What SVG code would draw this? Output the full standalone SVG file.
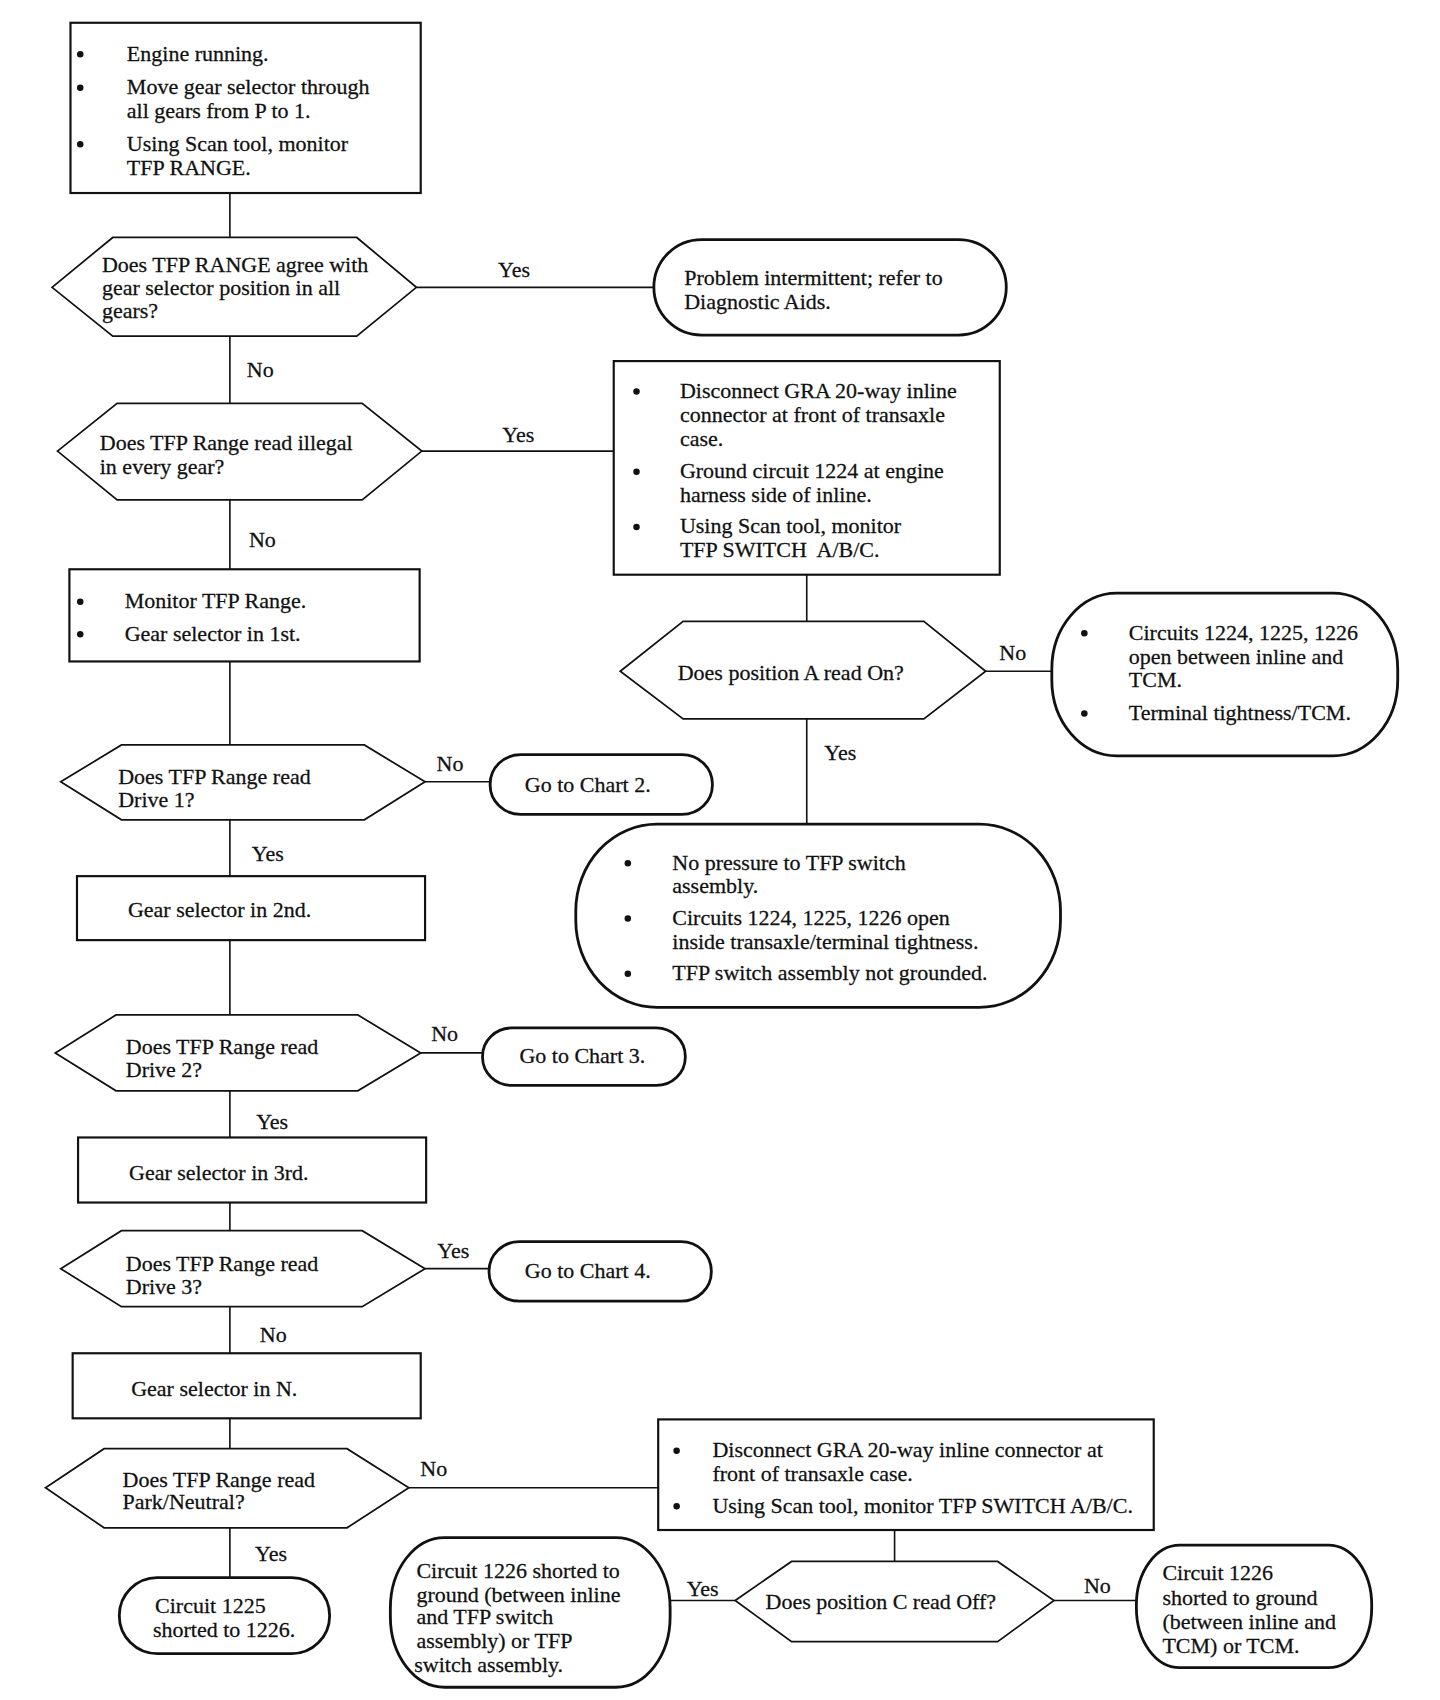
<svg xmlns="http://www.w3.org/2000/svg" width="1440" height="1700" viewBox="0 0 1440 1700">
<style>
text{font-family:"Liberation Serif","Times New Roman",serif;font-size:20.3px;fill:#111;stroke:#111;stroke-width:0.25}
.lbl{text-anchor:middle}
.box{fill:#fff;stroke:#111;stroke-width:2}
.dia{fill:#fff;stroke:#111;stroke-width:1.6}
.term{fill:#fff;stroke:#111;stroke-width:2.6}
.con line{stroke:#111;stroke-width:1.5}
.bul{fill:#111}
</style>
<rect width="1440" height="1700" fill="#fff"/>
<g transform="scale(1.08434)">
<g id="connectors" class="con">
<line x1="212" y1="178" x2="212" y2="219"/>
<line x1="212" y1="310" x2="212" y2="372"/>
<line x1="212" y1="461" x2="212" y2="525"/>
<line x1="212" y1="610" x2="212" y2="687"/>
<line x1="212" y1="756" x2="212" y2="808"/>
<line x1="212" y1="867" x2="212" y2="936"/>
<line x1="212" y1="1006" x2="212" y2="1049"/>
<line x1="212" y1="1109" x2="212" y2="1135"/>
<line x1="212" y1="1205" x2="212" y2="1248"/>
<line x1="212" y1="1308" x2="212" y2="1336"/>
<line x1="212" y1="1409" x2="212" y2="1455"/>
<line x1="384" y1="265" x2="603" y2="265"/>
<line x1="389" y1="416" x2="566" y2="416"/>
<line x1="744" y1="530" x2="744" y2="573"/>
<line x1="909" y1="619" x2="970" y2="619"/>
<line x1="744" y1="663" x2="744" y2="760"/>
<line x1="392" y1="721" x2="452" y2="721"/>
<line x1="388" y1="971" x2="445" y2="971"/>
<line x1="392" y1="1170" x2="451" y2="1170"/>
<line x1="377" y1="1372" x2="607" y2="1372"/>
<line x1="825" y1="1411" x2="825" y2="1440"/>
<line x1="618" y1="1476" x2="678" y2="1476"/>
<line x1="972" y1="1476" x2="1048" y2="1476"/>
<g class="lbl">
<text x="474" y="255">Yes</text>
<text x="240" y="348">No</text>
<text x="478" y="408">Yes</text>
<text x="242" y="504">No</text>
<text x="934" y="609">No</text>
<text x="775" y="701">Yes</text>
<text x="415" y="711">No</text>
<text x="247" y="794">Yes</text>
<text x="410" y="960">No</text>
<text x="251" y="1041">Yes</text>
<text x="418" y="1160">Yes</text>
<text x="252" y="1238">No</text>
<text x="400" y="1361">No</text>
<text x="250" y="1440">Yes</text>
<text x="648" y="1472">Yes</text>
<text x="1012" y="1469">No</text>
</g>
</g>

<g id="n1">
<rect class="box" x="65" y="21" width="323" height="157"/>
<circle class="bul" cx="74" cy="50" r="3"/><circle class="bul" cx="74" cy="81" r="3"/><circle class="bul" cx="74" cy="133" r="3"/>
<text x="117" y="56">Engine running.</text>
<text x="117" y="87">Move gear selector through</text>
<text x="117" y="109">all gears from P to 1.</text>
<text x="117" y="139">Using Scan tool, monitor</text>
<text x="117" y="161">TFP RANGE.</text>
</g>

<g id="d1">
<polygon class="dia" points="48,265 104,219 329,219 384,265 329,310 104,310"/>
<text x="94" y="251">Does TFP RANGE agree with</text>
<text x="94" y="272">gear selector position in all</text>
<text x="94" y="293">gears?</text>
</g>

<g id="t1">
<rect class="term" x="603" y="221" width="325" height="88" rx="44" ry="44"/>
<text x="631" y="263">Problem intermittent; refer to</text>
<text x="631" y="285">Diagnostic Aids.</text>
</g>

<g id="d2">
<polygon class="dia" points="53,416 108,372 334,372 389,416 334,461 108,461"/>
<text x="92" y="415">Does TFP Range read illegal</text>
<text x="92" y="437">in every gear?</text>
</g>

<g id="b2">
<rect class="box" x="566" y="333" width="356" height="197"/>
<circle class="bul" cx="587" cy="361" r="3"/><circle class="bul" cx="587" cy="435" r="3"/><circle class="bul" cx="587" cy="486" r="3"/>
<text x="627" y="367">Disconnect GRA 20-way inline</text>
<text x="627" y="389">connector at front of transaxle</text>
<text x="627" y="411">case.</text>
<text x="627" y="441">Ground circuit 1224 at engine</text>
<text x="627" y="463">harness side of inline.</text>
<text x="627" y="492">Using Scan tool, monitor</text>
<text x="627" y="514">TFP SWITCH&#160; A/B/C.</text>
</g>

<g id="b3">
<rect class="box" x="64" y="525" width="323" height="85"/>
<circle class="bul" cx="74" cy="555" r="3"/><circle class="bul" cx="74" cy="585" r="3"/>
<text x="115" y="561">Monitor TFP Range.</text>
<text x="115" y="591">Gear selector in 1st.</text>
</g>

<g id="dA">
<polygon class="dia" points="572,619 630,573 852,573 909,619 852,663 630,663"/>
<text x="625" y="627">Does position A read On?</text>
</g>

<g id="tA">
<rect class="term" x="970" y="547" width="319" height="150" rx="60" ry="70"/>
<circle class="bul" cx="1000" cy="584" r="3"/><circle class="bul" cx="1000" cy="658" r="3"/>
<text x="1041" y="590">Circuits 1224, 1225, 1226</text>
<text x="1041" y="612">open between inline and</text>
<text x="1041" y="634">TCM.</text>
<text x="1041" y="664">Terminal tightness/TCM.</text>
</g>

<g id="tB">
<rect class="term" x="531" y="760" width="447" height="169" rx="75" ry="80"/>
<circle class="bul" cx="579" cy="796" r="3"/><circle class="bul" cx="579" cy="847" r="3"/><circle class="bul" cx="579" cy="898" r="3"/>
<text x="620" y="802">No pressure to TFP switch</text>
<text x="620" y="824">assembly.</text>
<text x="620" y="853">Circuits 1224, 1225, 1226 open</text>
<text x="620" y="875">inside transaxle/terminal tightness.</text>
<text x="620" y="904">TFP switch assembly not grounded.</text>
</g>

<g id="dD1">
<polygon class="dia" points="56,721 112,687 336,687 392,721 336,756 112,756"/>
<text x="109" y="723">Does TFP Range read</text>
<text x="109" y="744">Drive 1?</text>
</g>

<g id="tC2">
<rect class="term" x="452" y="696" width="205" height="55" rx="28" ry="27"/>
<text x="484" y="730">Go to Chart 2.</text>
</g>

<g id="b4">
<rect class="box" x="71" y="808" width="321" height="59"/>
<text x="118" y="846">Gear selector in 2nd.</text>
</g>

<g id="dD2">
<polygon class="dia" points="51,971 107,936 330,936 388,971 330,1006 107,1006"/>
<text x="116" y="972">Does TFP Range read</text>
<text x="116" y="993">Drive 2?</text>
</g>

<g id="tC3">
<rect class="term" x="445" y="948" width="187" height="53" rx="27" ry="26"/>
<text x="479" y="980">Go to Chart 3.</text>
</g>

<g id="b5">
<rect class="box" x="72" y="1049" width="321" height="60"/>
<text x="119" y="1088">Gear selector in 3rd.</text>
</g>

<g id="dD3">
<polygon class="dia" points="56,1170 112,1135 334,1135 392,1170 334,1205 112,1205"/>
<text x="116" y="1172">Does TFP Range read</text>
<text x="116" y="1193">Drive 3?</text>
</g>

<g id="tC4">
<rect class="term" x="451" y="1145" width="205" height="55" rx="28" ry="27"/>
<text x="484" y="1179">Go to Chart 4.</text>
</g>

<g id="b6">
<rect class="box" x="67" y="1248" width="321" height="60"/>
<text x="121" y="1287">Gear selector in N.</text>
</g>

<g id="dPN">
<polygon class="dia" points="42,1372 96,1336 320,1336 377,1372 320,1409 96,1409"/>
<text x="113" y="1371">Does TFP Range read</text>
<text x="113" y="1392">Park/Neutral?</text>
</g>

<g id="b7">
<rect class="box" x="607" y="1309" width="457" height="102"/>
<circle class="bul" cx="624" cy="1338" r="3"/><circle class="bul" cx="624" cy="1389" r="3"/>
<text x="657" y="1344">Disconnect GRA 20-way inline connector at</text>
<text x="657" y="1366">front of transaxle case.</text>
<text x="657" y="1395">Using Scan tool, monitor TFP SWITCH A/B/C.</text>
</g>

<g id="t1225">
<rect class="term" x="110" y="1455" width="194" height="70" rx="35" ry="35"/>
<text x="143" y="1488">Circuit 1225</text>
<text x="141" y="1510">shorted to 1226.</text>
</g>

<g id="dC">
<polygon class="dia" points="678,1476 730,1440 920,1440 972,1476 920,1514 730,1514"/>
<text x="706" y="1484">Does position C read Off?</text>
</g>

<g id="tY">
<rect class="term" x="360" y="1418" width="258" height="138" rx="50" ry="65"/>
<text x="384" y="1455">Circuit 1226 shorted to</text>
<text x="384" y="1477">ground (between inline</text>
<text x="384" y="1498">and TFP switch</text>
<text x="384" y="1520">assembly) or TFP</text>
<text x="382" y="1542">switch assembly.</text>
</g>

<g id="tN">
<rect class="term" x="1048" y="1425" width="217" height="113" rx="40" ry="55"/>
<text x="1072" y="1457">Circuit 1226</text>
<text x="1072" y="1480">shorted to ground</text>
<text x="1072" y="1502">(between inline and</text>
<text x="1072" y="1524">TCM) or TCM.</text>
</g>
</g>
</svg>
